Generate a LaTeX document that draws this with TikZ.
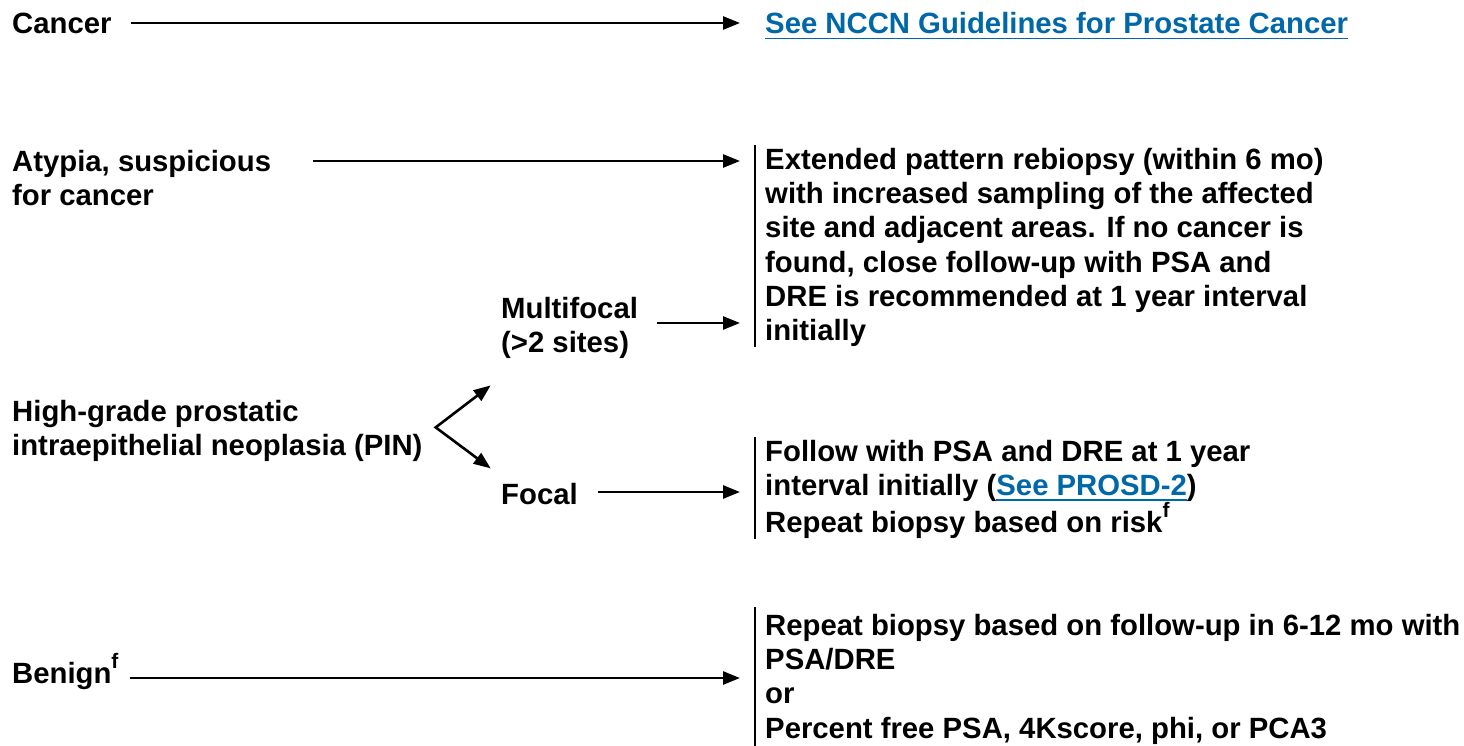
\documentclass[tikz,border=0pt]{standalone}
\usepackage{fontspec}
\setmainfont{Liberation Sans}
\usetikzlibrary{arrows.meta,calc}
\definecolor{linkblue}{RGB}{0,104,168}
\newcommand\lnk[1]{{\color{linkblue}\setbox0\hbox{#1}\rlap{\rule[-5.5pt]{\wd0}{1.9pt}}\box0}}
\newcommand\fst{\rule[-4pt]{0pt}{28pt}}
\newcommand\supf{\raisebox{15pt}{\fontsize{21}{21}\selectfont f}}
\begin{document}
\begin{tikzpicture}[x=1pt,y=-1pt,
  txt/.style={font=\fontsize{29.3}{34.3}\selectfont\bfseries, inner sep=0pt, align=left},
  arr/.style={line width=2.6pt, -{Triangle[length=17pt,width=13pt]}},
  fork/.style={line width=2.6pt, line join=miter, {Triangle[length=17pt,width=13pt]}-{Triangle[length=17pt,width=13pt]}},
  bar/.style={line width=2.2pt}]
\useasboundingbox (0,0) rectangle (1464,746);

% left column
\node[txt, anchor=base west] (cancer) at (12,34) {Cancer};
\node[txt, anchor=north west] (atypia) at (12,147) {\fst Atypia, suspicious\\\fst for cancer};
\node[txt, anchor=north west] (high) at (12,397) {\fst High-grade prostatic\\\fst intraepithelial neoplasia (PIN)};
\node[txt, anchor=base west] (benign) at (12,683) {Benign\supf};

% middle column
\node[txt, anchor=north west] (multi) at (501,294) {\fst Multifocal\\\fst (>2 sites)};
\node[txt, anchor=base west] (focal) at (501,504) {Focal};

% right column
\node[txt, anchor=base west] (nccn) at (765,34) {\lnk{See NCCN Guidelines for Prostate Cancer}};
\node[txt, anchor=north west] (ext) at (765,145) {\fst Extended pattern rebiopsy (within 6 mo)\\\fst with increased sampling of the affected\\\fst site and adjacent areas. If no cancer is\\\fst found, close follow-up with PSA and\\\fst DRE is recommended at 1 year interval\\\fst initially};
\node[txt, anchor=north west] (follow) at (765,437) {\fst Follow with PSA and DRE at 1 year\\\fst interval initially (\lnk{See PROSD-2})\\\fst Repeat biopsy based on risk\supf};
\node[txt, anchor=north west] (repeat) at (765,611) {\fst Repeat biopsy based on follow-up in 6-12 mo with\\\fst PSA/DRE\\\fst or\\\fst Percent free PSA, 4Kscore, phi, or PCA3};

% bars
\draw[bar] ($(ext.north west)+(-10pt,0pt)$) -- ($(ext.south west)+(-10pt,0pt)$);
\draw[bar] ($(follow.north west)+(-10pt,0pt)$) -- ($(follow.south west)+(-10pt,0pt)$);
\draw[bar] ($(repeat.north west)+(-10pt,4pt)$) -- ($(repeat.south west)+(-10pt,-4pt)$);

% connectors
\draw[arr] ($(cancer.base east)+(19pt,11pt)$) -- ($(cancer.base east -| nccn.base west)+(-25pt,11pt)$);
\draw[arr] ($(atypia.north east)+(42pt,-14pt)$) -- ($(atypia.north east -| ext.west)+(-25pt,-14pt)$);
\draw[arr] ($(multi.north east)+(19pt,-29pt)$) -- ($(multi.north east -| ext.west)+(-25pt,-29pt)$);
\draw[arr] ($(focal.base east)+(20pt,12pt)$) -- ($(focal.base east -| follow.west)+(-25pt,12pt)$);
\draw[arr] ($(benign.base east)+(11pt,5pt)$) -- ($(benign.base east -| repeat.west)+(-25pt,5pt)$);

\coordinate (forkpt) at ($(high.east)+(13pt,2pt)$);
\coordinate (uptip) at ($(forkpt)+(55pt,42pt)$);
\coordinate (downtip) at ($(forkpt)+(55pt,-41pt)$);
\draw[fork] (uptip) -- (forkpt) -- (downtip);
\end{tikzpicture}
\end{document}
